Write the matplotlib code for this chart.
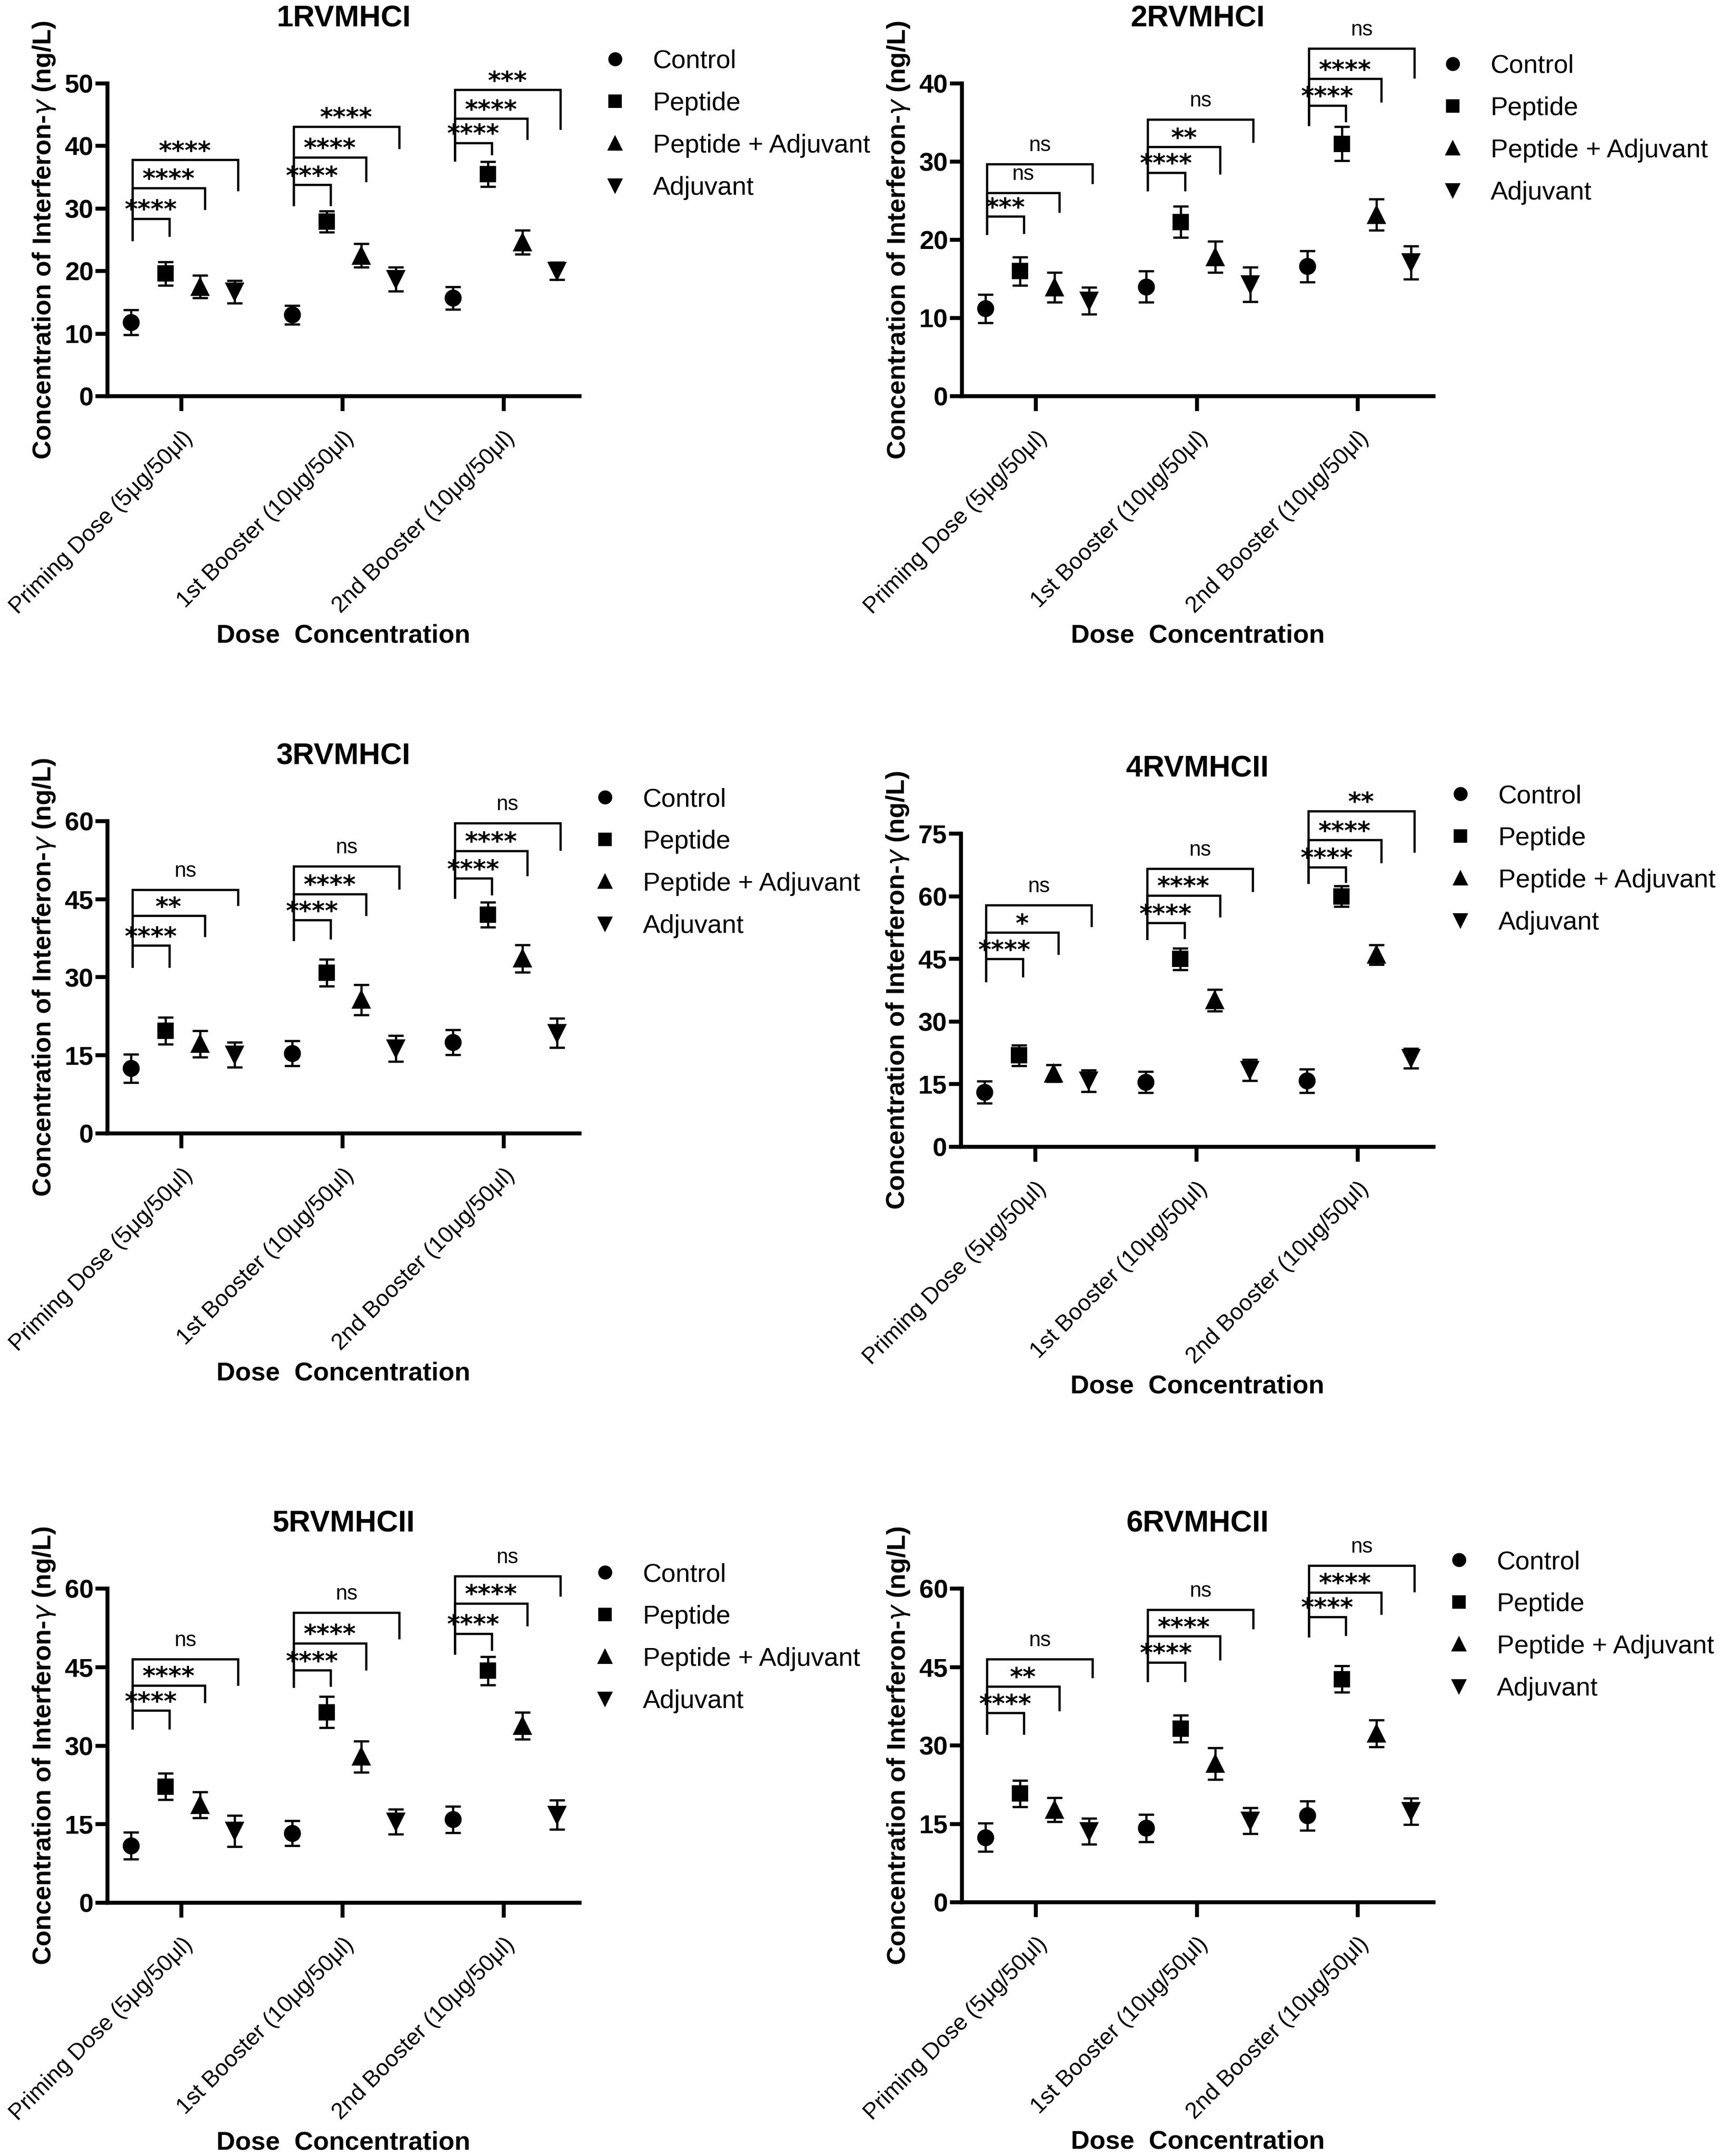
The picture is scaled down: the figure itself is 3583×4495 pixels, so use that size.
import matplotlib
matplotlib.use('Agg')
import matplotlib.pyplot as plt
from matplotlib.lines import Line2D
import numpy as np

plt.rcParams['font.family'] = ['Liberation Sans', 'DejaVu Sans']
plt.rcParams['mathtext.fontset'] = 'dejavusans'

# ---------------- data ----------------
panel_titles = ["1RVMHCI", "2RVMHCI", "3RVMHCI", "4RVMHCII", "5RVMHCII", "6RVMHCII"]
dose_labels = ["Priming Dose (5μg/50μl)", "1st Booster (10μg/50μl)", "2nd Booster (10μg/50μl)"]
series_names = ["Control", "Peptide", "Peptide + Adjuvant", "Adjuvant"]
y_max = [50, 40, 60, 75, 60, 60]
y_step = [10, 10, 15, 15, 15, 15]

control_mean = [[11.8, 13.0, 15.7], [11.2, 14.0, 16.6], [12.5, 15.4, 17.5],
                [13.1, 15.5, 15.8], [10.9, 13.3, 15.9], [12.4, 14.2, 16.6]]
control_err = [[2.0, 1.5, 1.8], [1.8, 2.0, 2.0], [2.7, 2.4, 2.4],
               [2.6, 2.5, 2.8], [2.6, 2.4, 2.5], [2.7, 2.6, 2.8]]
peptide_mean = [[19.6, 27.9, 35.5], [16.0, 22.3, 32.3], [19.7, 30.9, 42.0],
                [21.9, 45.0, 60.0], [22.2, 36.4, 44.3], [20.8, 33.2, 42.7]]
peptide_err = [[1.9, 1.7, 2.0], [1.8, 2.0, 2.2], [2.6, 2.6, 2.4],
               [2.5, 2.6, 2.5], [2.5, 3.0, 2.7], [2.5, 2.6, 2.5]]
pepadj_mean = [[17.5, 22.5, 24.6], [13.9, 17.8, 23.2], [17.2, 25.7, 33.6],
               [17.6, 35.1, 46.0], [18.7, 27.9, 33.8], [17.7, 26.5, 32.3]]
pepadj_err = [[1.8, 1.9, 1.9], [1.9, 2.0, 2.0], [2.5, 2.9, 2.6],
              [2.0, 2.6, 2.4], [2.5, 3.0, 2.6], [2.3, 3.0, 2.6]]
adjuvant_mean = [[16.7, 18.7, 20.0], [12.2, 14.3, 17.1], [15.1, 16.3, 19.3],
                 [15.8, 18.4, 21.2], [13.7, 15.5, 16.8], [13.6, 15.6, 17.4]]
adjuvant_err = [[1.8, 1.9, 1.4], [1.7, 2.2, 2.1], [2.4, 2.5, 2.8],
                [2.6, 2.5, 2.4], [3.0, 2.4, 2.8], [2.5, 2.5, 2.5]]

# significance brackets: per panel, per dose group, three comparisons vs Control
bracket_top = [
    [[28.4, 33.3, 37.8], [33.8, 38.2, 43.1], [40.5, 44.4, 49.0]],
    [[23.0, 26.0, 29.7], [28.6, 31.9, 35.4], [37.2, 40.6, 44.5]],
    [[36.1, 41.8, 46.8], [41.0, 46.0, 51.3], [49.0, 54.3, 59.6]],
    [[45.0, 51.3, 57.9], [53.6, 60.2, 66.6], [67.0, 73.5, 80.4]],
    [[36.7, 41.5, 46.5], [44.4, 49.6, 55.4], [51.4, 57.2, 62.4]],
    [[36.2, 41.3, 46.5], [45.9, 50.9, 56.0], [54.6, 59.3, 64.4]],
]
bracket_right_end = [
    [[25.7, 30.0, 33.0], [30.6, 34.4, 39.7], [38.7, 41.2, 42.8]],
    [[20.9, 23.6, 27.3], [26.4, 28.5, 32.6], [35.2, 37.7, 40.8]],
    [[32.1, 38.0, 44.0], [37.5, 42.0, 47.1], [46.0, 49.7, 54.6]],
    [[40.9, 46.3, 53.0], [50.1, 55.2, 61.3], [63.5, 68.2, 70.7]],
    [[33.3, 38.4, 41.7], [41.5, 44.6, 50.6], [48.4, 53.0, 58.7]],
    [[32.3, 36.8, 43.1], [42.4, 46.5, 52.5], [51.2, 55.2, 59.5]],
]
bracket_left_end = [
    [25.0, 30.6, 37.7],
    [20.8, 26.4, 34.7],
    [32.1, 37.2, 45.3],
    [39.7, 49.9, 63.3],
    [33.3, 41.3, 47.6],
    [32.3, 42.4, 50.9],
]
bracket_labels = [
    [["****", "****", "****"], ["****", "****", "****"], ["****", "****", "***"]],
    [["***", "ns", "ns"], ["****", "**", "ns"], ["****", "****", "ns"]],
    [["****", "**", "ns"], ["****", "****", "ns"], ["****", "****", "ns"]],
    [["****", "*", "ns"], ["****", "****", "ns"], ["****", "****", "**"]],
    [["****", "****", "ns"], ["****", "****", "ns"], ["****", "****", "ns"]],
    [["****", "**", "ns"], ["****", "****", "ns"], ["****", "****", "ns"]],
]

# ---------------- layout (pixels of the 3583x4495 canvas) ----------------
W, H, DPI = 3583, 4495, 300
axes_px = [  # left, right, top, bottom
    (224, 1208, 174, 826), (2005, 2988, 174, 826),
    (224, 1208, 1712, 2363), (2003, 2988, 1738, 2391),
    (224, 1208, 3312, 3967), (2005, 2988, 3312, 3966),
]
legend_px = [(1255, 103), (3001, 113), (1234, 1642), (3017, 1635), (1234, 3258), (3014, 3232)]

means = [control_mean, peptide_mean, pepadj_mean, adjuvant_mean]
errs = [control_err, peptide_err, pepadj_err, adjuvant_err]
markers = ['o', 's', '^', 'v']
msizes = [7.5, 7.0, 8.0, 8.0]
offsets = [-0.315, -0.10, 0.115, 0.33]
leg_offsets = [-0.305, -0.075, 0.145, 0.35]

fig = plt.figure(figsize=(W / DPI, H / DPI), dpi=DPI)

for i in range(6):
    l, r, t, b = axes_px[i]
    ax = fig.add_axes([l / W, 1 - b / H, (r - l) / W, (b - t) / H])
    x = np.arange(len(dose_labels))
    for s in range(4):
        ax.errorbar(x + offsets[s], means[s][i], yerr=errs[s][i], fmt=markers[s],
                    ms=msizes[s], color='black', ecolor='black', elinewidth=1.1,
                    capsize=3.8, capthick=1.1, clip_on=False, zorder=3)

    # brackets
    for g in range(3):
        xl = g + leg_offsets[0]
        for k in range(3):
            xr = g + leg_offsets[k + 1]
            yt = bracket_top[i][g][k]
            ax.plot([xl, xl, xr, xr],
                    [bracket_left_end[i][g], yt, yt, bracket_right_end[i][g][k]],
                    color='black', lw=1.1, clip_on=False, solid_joinstyle='miter')
            lab = bracket_labels[i][g][k]
            if lab == 'ns':
                ax.annotate(lab, ((xl + xr) / 2, yt), xytext=(0, 6.5),
                            textcoords='offset points', ha='center', va='baseline',
                            fontsize=10.5, annotation_clip=False)
            else:
                ax.annotate(lab, ((xl + xr) / 2, yt), xytext=(0, 0.6),
                            textcoords='offset points', ha='center', va='baseline',
                            fontsize=12.5, family='DejaVu Sans', fontweight='bold',
                            annotation_clip=False)

    ax.set_xlim(-0.46, 2.47)
    ax.set_ylim(0, y_max[i])
    ax.set_yticks(np.arange(0, y_max[i] + 0.1, y_step[i]))
    ax.set_xticks(x)
    ax.set_xticklabels(dose_labels, rotation=45, ha='right', rotation_mode='anchor', fontsize=11.5)
    for lab in ax.get_yticklabels():
        lab.set_fontsize(13)
        lab.set_fontweight('bold')
    for sp in ['top', 'right']:
        ax.spines[sp].set_visible(False)
    for sp in ['left', 'bottom']:
        ax.spines[sp].set_linewidth(2.0)
    ax.tick_params(axis='x', length=7.5, width=2.0, pad=8, direction='out')
    ax.tick_params(axis='y', length=6.0, width=2.0, pad=1, direction='out')

    ax.set_ylabel("Concentration of Interferon-$\\gamma$ (ng/L)", fontsize=13, fontweight='bold')
    ax.yaxis.set_label_coords(-0.134, 0.5)
    ax.yaxis.label.set_va('center')
    ax.set_xlabel("Dose  Concentration", fontsize=13, fontweight='bold')
    ax.xaxis.set_label_coords(0.5, -500 / (b - t))
    ax.xaxis.label.set_va('center')
    ax.set_title(panel_titles[i], fontsize=15, fontweight='bold', y=1 + 135 / (b - t),
                 va='center', pad=0)

    handles = [Line2D([], [], marker=markers[s], ls='none', color='black', ms=msizes[s])
               for s in range(4)]
    lx, ly = legend_px[i]
    ax.legend(handles, series_names, loc='upper left', bbox_to_anchor=(lx / W, 1 - ly / H),
              bbox_transform=fig.transFigure, frameon=False, fontsize=13,
              handlelength=1.0, handletextpad=0.95, labelspacing=0.7,
              borderpad=0, borderaxespad=0, markerscale=0.8)

fig.savefig('out.png', dpi=DPI)
